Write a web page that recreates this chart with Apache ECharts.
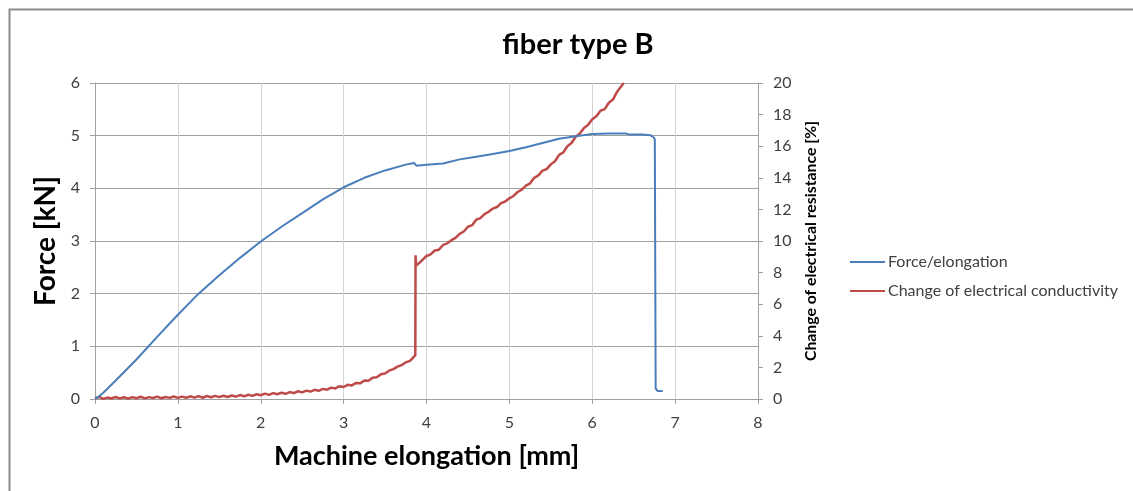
<!DOCTYPE html>
<html>
<head>
<meta charset="utf-8">
<script src="https://cdn.jsdelivr.net/npm/echarts@6/dist/echarts.min.js"></script>
<style>
html,body{margin:0;padding:0;background:#fff;}
#chart{width:1133px;height:491px;}
</style>
</head>
<body>
<div id="chart"></div>
<script>
const TITLE = "fiber type B";
const X_NAME = "Machine elongation [mm]";
const Y_LEFT_NAME = "Force [kN]";
const Y_RIGHT_NAME = "Change of electrical resistance [%]";
const SERIES_NAMES = ["Force/elongation", "Change of electrical conductivity"];

// Force/elongation curve
const forceX = [0, 0.05, 0.1, 0.25, 0.5, 0.75, 1.0, 1.25, 1.5, 1.75, 2.0, 2.25, 2.5, 2.75, 3.0, 3.25, 3.5, 3.75, 3.85, 3.86, 3.88, 4.0, 4.2, 4.4, 4.6, 4.8, 5.0, 5.2, 5.4, 5.6, 5.8, 6.0, 6.2, 6.4, 6.45, 6.6, 6.7, 6.74, 6.755, 6.765, 6.79, 6.85];
const forceY = [0, 0.05, 0.12, 0.35, 0.75, 1.18, 1.6, 2.0, 2.35, 2.68, 2.99, 3.27, 3.53, 3.79, 4.02, 4.2, 4.34, 4.45, 4.48, 4.47, 4.43, 4.45, 4.47, 4.55, 4.6, 4.65, 4.71, 4.78, 4.86, 4.94, 4.99, 5.03, 5.04, 5.04, 5.02, 5.02, 5.01, 4.97, 4.93, 0.2, 0.15, 0.15];

// Change of electrical resistance curve
const resX = [0.00,0.05,0.10,0.15,0.20,0.25,0.30,0.35,0.40,0.45,0.50,0.55,0.60,0.65,0.70,0.75,0.80,0.85,0.90,0.95,
  1.00,1.05,1.10,1.15,1.20,1.25,1.30,1.35,1.40,1.45,1.50,1.55,1.60,1.65,1.70,1.75,1.80,1.85,1.90,1.95,
  2.00,2.05,2.10,2.15,2.20,2.25,2.30,2.35,2.40,2.45,2.50,2.55,2.60,2.65,2.70,2.75,2.80,2.85,2.90,2.95,
  3.00,3.05,3.10,3.15,3.20,3.25,3.30,3.35,3.40,3.45,3.50,3.55,3.60,3.65,3.70,3.75,3.80,3.83,3.865,3.868,
  3.875,3.90,3.93,3.96,4.00,4.05,4.10,4.15,4.20,4.25,4.30,4.35,4.40,4.45,4.50,4.55,4.60,4.65,4.70,4.75,
  4.80,4.85,4.90,4.95,5.00,5.05,5.10,5.15,5.20,5.25,5.30,5.35,5.40,5.45,5.50,5.55,5.60,5.65,5.70,5.75,
  5.80,5.85,5.90,5.95,6.00,6.05,6.10,6.15,6.20,6.25,6.30,6.35,6.38];
const resY = [0.05,0.13,0.01,0.09,0.03,0.13,0.04,0.11,0.02,0.12,0.05,0.14,0.04,0.12,0.06,0.15,0.05,0.13,0.07,0.16,
  0.07,0.15,0.08,0.17,0.09,0.18,0.08,0.19,0.11,0.20,0.12,0.21,0.13,0.22,0.15,0.25,0.17,0.27,0.20,0.30,
  0.24,0.34,0.26,0.37,0.30,0.40,0.33,0.44,0.37,0.49,0.42,0.53,0.47,0.58,0.52,0.64,0.59,0.72,0.67,0.81,
  0.76,0.90,0.86,1.02,0.99,1.17,1.16,1.35,1.37,1.57,1.61,1.80,1.89,2.05,2.14,2.32,2.41,2.57,2.78,9.10,
  8.45,8.55,8.70,8.85,9.05,9.15,9.40,9.45,9.75,9.85,10.05,10.20,10.45,10.60,10.90,11.00,11.35,11.45,11.70,11.85,
  12.05,12.15,12.40,12.50,12.70,12.85,13.10,13.25,13.50,13.65,14.00,14.15,14.45,14.55,14.85,15.05,15.45,15.60,16.00,16.20,
  16.60,16.80,17.15,17.35,17.70,17.90,18.25,18.35,18.75,18.95,19.45,19.80,20.00];

const xTicks = {min: 0, max: 8, interval: 1};
const yLeftTicks = {min: 0, max: 6, interval: 1};
const yRightTicks = {min: 0, max: 20, interval: 2};

const FONT = "Lato";
const chart = echarts.init(document.getElementById('chart'), null, {renderer: 'canvas'});
const zip = (a, b) => a.map((v, i) => [v, b[i]]);

chart.setOption({
  animation: false,
  backgroundColor: '#ffffff',
  title: {
    text: TITLE, left: 573, top: 25, textAlign: 'center',
    textStyle: {fontFamily: FONT, fontWeight: 'bold', fontSize: 29, color: '#000'}
  },
  grid: {left: 95, right: 375, top: 83, bottom: 92, containLabel: false},
  legend: {
    orient: 'vertical', left: 850, top: 254, padding: 0, itemWidth: 35, itemHeight: 2, itemGap: 13,
    icon: 'rect',
    textStyle: {fontFamily: FONT, fontSize: 16, color: '#404040', padding: [0, 0, 0, -2]},
    data: SERIES_NAMES
  },
  xAxis: {
    type: 'value', min: xTicks.min, max: xTicks.max, interval: xTicks.interval,
    name: X_NAME, nameLocation: 'middle', nameGap: 44,
    nameTextStyle: {fontFamily: FONT, fontWeight: 'bold', fontSize: 27, color: '#000'},
    axisLine: {show: true, lineStyle: {color: '#a0a0a0', width: 1}},
    axisTick: {show: true, length: 5, lineStyle: {color: '#a0a0a0'}},
    axisLabel: {fontFamily: FONT, fontSize: 16, color: '#404040', margin: 16},
    splitLine: {show: true, lineStyle: {color: '#d4d4d4', width: 1}}
  },
  yAxis: [{
    type: 'value', min: yLeftTicks.min, max: yLeftTicks.max, interval: yLeftTicks.interval,
    position: 'left',
    name: Y_LEFT_NAME, nameLocation: 'middle', nameGap: 30, nameRotate: 90,
    nameTextStyle: {fontFamily: FONT, fontWeight: 'bold', fontSize: 28, color: '#000'},
    axisLine: {show: true, lineStyle: {color: '#a0a0a0', width: 1}},
    axisTick: {show: true, length: 5, lineStyle: {color: '#a0a0a0'}},
    axisLabel: {fontFamily: FONT, fontSize: 16, color: '#404040', margin: 15},
    splitLine: {show: true, lineStyle: {color: '#a0a0a0', width: 1}}
  }, {
    type: 'value', min: yRightTicks.min, max: yRightTicks.max, interval: yRightTicks.interval,
    position: 'right',
    name: Y_RIGHT_NAME, nameLocation: 'middle', nameGap: 44, nameRotate: 90,
    nameTextStyle: {fontFamily: FONT, fontWeight: 'bold', fontSize: 15.8, color: '#000'},
    axisLine: {show: true, lineStyle: {color: '#a0a0a0', width: 1}},
    axisTick: {show: true, length: 5, lineStyle: {color: '#a0a0a0'}},
    axisLabel: {fontFamily: FONT, fontSize: 16, color: '#404040', margin: 15},
    splitLine: {show: false}
  }],
  series: [{
    name: SERIES_NAMES[0], type: 'line', yAxisIndex: 0, symbol: 'none', smooth: false,
    data: zip(forceX, forceY),
    lineStyle: {color: '#4a7ebb', width: 2},
    itemStyle: {color: '#4a7ebb'}, z: 3
  }, {
    name: SERIES_NAMES[1], type: 'line', yAxisIndex: 1, symbol: 'none', smooth: false,
    data: zip(resX, resY), clip: true,
    lineStyle: {color: '#be4b48', width: 2.5},
    itemStyle: {color: '#be4b48'}, z: 2
  }],
  graphic: [{
    type: 'rect', left: 7, top: 7, silent: true,
    shape: {x: 0, y: 0, width: 1200, height: 600},
    style: {fill: 'none', stroke: '#8c8c8c', lineWidth: 2}
  }]
});
</script>
</body>
</html>
